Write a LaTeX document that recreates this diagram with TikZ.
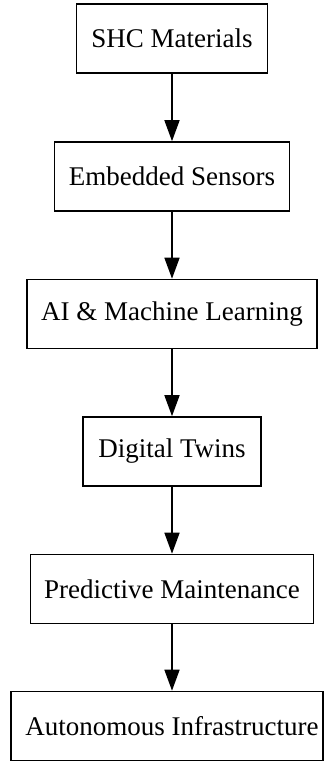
\documentclass[tikz,border=0pt]{standalone}
\usepackage{fontspec}
\setmainfont{Liberation Serif}
\usetikzlibrary{arrows.meta}
\begin{document}
\begin{tikzpicture}[x=1pt,y=1pt,
  box/.style={draw=black, line width=1.6pt, minimum height=69pt, inner sep=0pt,
    font=\fontsize{27}{31}\selectfont},
  flow/.style={line width=1.6pt, -{Triangle[length=21pt,width=15pt]}}]
\fill[white] (0,0) rectangle (325,-761);
\useasboundingbox (0,0) rectangle (325,-761);
\node[box, minimum width=191pt] (a) at (172,-38.5) {SHC Materials};
\node[box, minimum width=235pt] (b) at (172,-176.5) {Embedded Sensors};
\node[box, minimum width=290pt] (c) at (172,-314) {AI \& Machine Learning};
\node[box, minimum width=178pt] (d) at (172,-451.5) {Digital Twins};
\node[box, minimum width=283pt] (e) at (172,-589) {Predictive Maintenance};
\node[box, minimum width=312pt] (f) at (167,-726) {\hspace*{10pt}Autonomous Infrastructure};
\draw[flow] (a) -- (b);
\draw[flow] (b) -- (c);
\draw[flow] (c) -- (d);
\draw[flow] (d) -- (e);
\draw[flow] (e.south) -- (e.south |- f.north);
\end{tikzpicture}
\end{document}
